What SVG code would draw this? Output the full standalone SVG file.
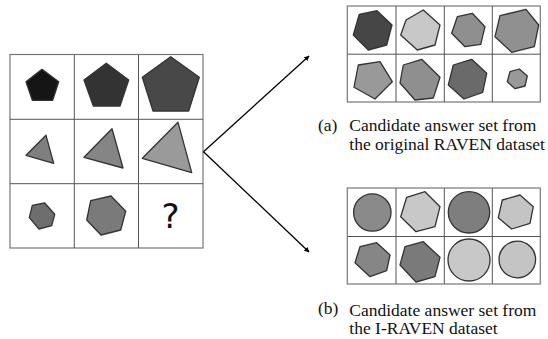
<svg xmlns="http://www.w3.org/2000/svg" width="548" height="339" viewBox="0 0 548 339">
<defs>
<style>
.grid{fill:none;stroke:#555;stroke-width:1}
.outer{fill:#fff;stroke:#777;stroke-width:1.2}
.sh{stroke:#333;stroke-width:1.3;stroke-linejoin:round}
.cap{font-family:"Liberation Serif","Times New Roman",serif;font-size:17.5px;fill:#111}
.q{font-family:"DejaVu Sans",Verdana,sans-serif;font-size:34px;fill:#111}
.conn{stroke:#000;stroke-width:1.3;fill:none}
</style>
<marker id="ah" viewBox="0 0 10 10" refX="9" refY="5" markerWidth="4" markerHeight="4" orient="auto" markerUnits="strokeWidth">
<path d="M0,0 L10,5 L0,10 z" fill="#000"/>
</marker>
</defs>
<rect width="548" height="339" fill="#fff"/>

<g id="matrix">
<rect class="outer" x="10" y="54.5" width="193" height="193.5"/>
<path class="grid" d="M74.3,54.5V248 M138.5,54.5V248 M10,119.3H203 M10,183.7H203"/>
<polygon class="sh" fill="#151515" points="42,69.3 58.7,81.7 52.7,100.3 32.3,100.3 26,81.7"/>
<polygon class="sh" fill="#333" points="106.3,63.3 128.7,80 120,106 93.3,106 84,80"/>
<polygon class="sh" fill="#484848" points="170.7,56.7 199.3,77.3 188.7,111 153,111 142.3,77.3"/>
<polygon class="sh" fill="#7f7f7f" points="46,135.3 53.7,163.3 26,155.3"/>
<polygon class="sh" fill="#858585" points="112,128.7 123,168 84,157.3"/>
<polygon class="sh" fill="#9a9a9a" points="178,122.3 191.7,172.7 142.3,158.3"/>
<polygon class="sh" fill="#6e6e6e" points="32.3,205.3 44.7,203 54.7,214.3 51.7,225.7 39,229 29.3,217.7"/>
<polygon class="sh" fill="#7a7a7a" points="90.7,200.7 111,196 125.7,211.3 120.7,230 101,235 86.7,220"/>
<text class="q" x="170.5" y="228" text-anchor="middle">?</text>
</g>

<g id="connectors">
<line class="conn" x1="203.5" y1="151.7" x2="309" y2="56" marker-end="url(#ah)"/>
<line class="conn" x1="203.5" y1="151.7" x2="309" y2="252" marker-end="url(#ah)"/>
</g>

<g id="raven-set">
<rect class="outer" x="347.3" y="6" width="193" height="96"/>
<path class="grid" d="M396,6V102 M444.3,6V102 M492.3,6V102 M347.3,54.2H540.3"/>
<polygon class="sh" fill="#464646" points="359.3,14.3 377,10.7 392,25 386.7,45 368.3,50 353.3,35"/>
<polygon class="sh" fill="#c8c8c8" points="406,20 423.3,10 440,25 435,45 417.3,50 400.7,35"/>
<polygon class="sh" fill="#8f8f8f" points="457.3,16.7 472.3,13.3 485,26.7 480.7,44.3 465,46.7 451.7,33.3"/>
<polygon class="sh" fill="#909090" points="500,15.7 526,9.3 538.7,25 534.3,46.7 511.7,52.3 495,36.7"/>
<polygon class="sh" fill="#999" points="358.3,65 380,61.7 392.3,81.7 375,99 354,87.3"/>
<polygon class="sh" fill="#8f8f8f" points="403.3,65 421.7,59.3 440,77.3 433.3,98 415,100 400,83"/>
<polygon class="sh" fill="#6a6a6a" points="453.3,65 471.7,59.3 486.7,73.3 482.7,92.3 464,99 448.3,85"/>
<polygon class="sh" fill="#999" points="510,71.7 519.3,69 527.3,76 525,86 515,88.7 507.3,81.7"/>
</g>

<g id="iraven-set">
<rect class="outer" x="347.3" y="188" width="193" height="96"/>
<path class="grid" d="M396,188V284 M444.3,188V284 M492.3,188V284 M347.3,236.5H540.3"/>
<circle class="sh" fill="#8a8a8a" cx="372.3" cy="212.5" r="18.7"/>
<polygon class="sh" fill="#c8c8c8" points="406.7,197.3 425,191.7 440,206.7 435,226.7 416,231.7 400.7,216.7"/>
<circle class="sh" fill="#7e7e7e" cx="469" cy="212.3" r="20.7"/>
<polygon class="sh" fill="#c4c4c4" points="502.3,200 520,195 533.3,206.7 530,223.3 511.7,229 498.3,217.7"/>
<polygon class="sh" fill="#868686" points="360,246.7 376.7,242.7 390,255 386.7,270.7 370,276.7 355,262.7"/>
<polygon class="sh" fill="#7a7a7a" points="405,246.7 423.3,241.7 440,257.3 435,276.7 416,282 400,265"/>
<circle class="sh" fill="#c8c8c8" cx="469" cy="260" r="21"/>
<circle class="sh" fill="#c4c4c4" cx="517.3" cy="259.5" r="18.3"/>
</g>

<g id="caption-a">
<text class="cap" x="318" y="130.7">(a)</text>
<text class="cap" x="349.3" y="130.7">Candidate answer set from</text>
<text class="cap" x="349.3" y="150">the original RAVEN dataset</text>
</g>
<g id="caption-b">
<text class="cap" x="318" y="314">(b)</text>
<text class="cap" x="349.3" y="315.7">Candidate answer set from</text>
<text class="cap" x="349.3" y="334.3">the I-RAVEN dataset</text>
</g>
</svg>
